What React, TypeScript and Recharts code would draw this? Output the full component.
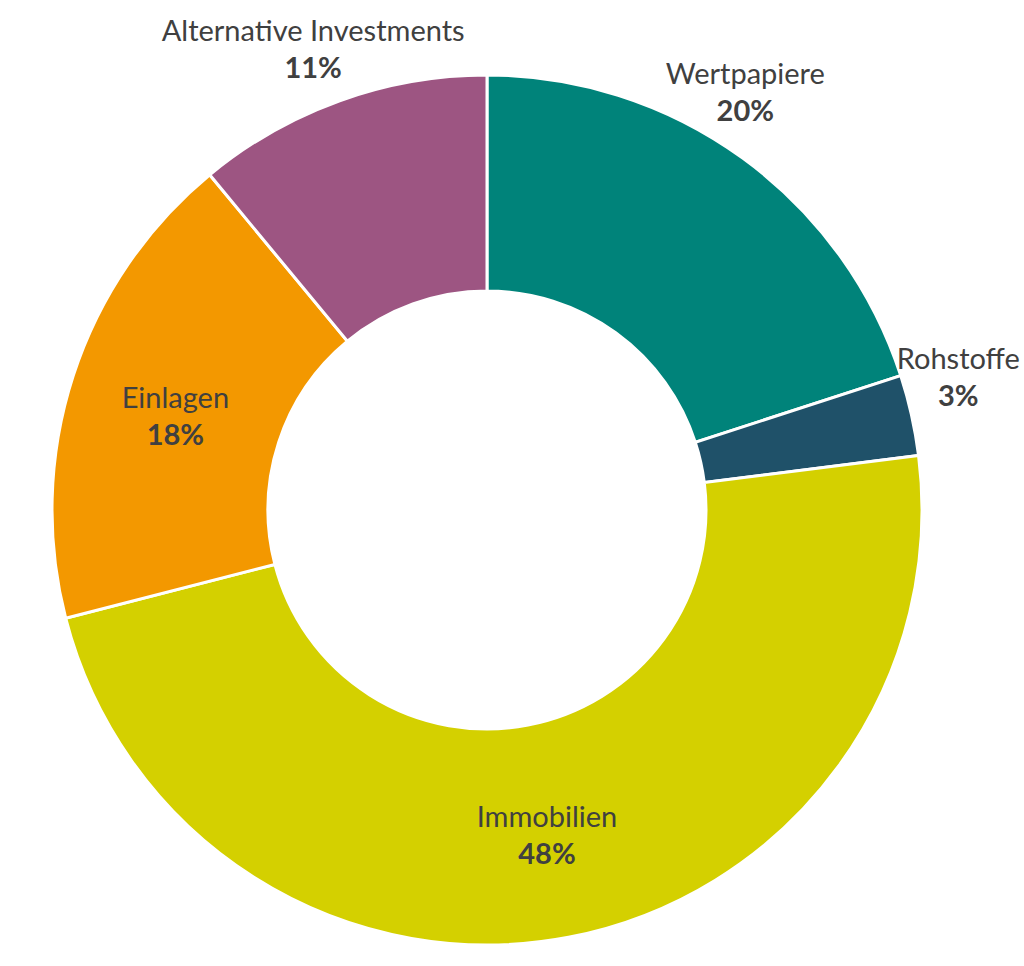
import React from "react";
import { PieChart, Pie, Cell } from "recharts";

const categories = ["Wertpapiere", "Rohstoffe", "Immobilien", "Einlagen", "Alternative Investments"];
const shares = [20, 3, 48, 18, 11];
const percentLabels = ["20%", "3%", "48%", "18%", "11%"];

const COLORS = ["#00837A", "#1F5169", "#D4D000", "#F39800", "#9D5582"];
// label placement: radius (px from centre) and angle nudge (deg) relative to slice middle
const LABEL_LAYOUT = [
  { r: 493, shift: 4.4 },
  { r: 490, shift: 3.3 },
  { r: 329, shift: -0.3 },
  { r: 326, shift: 0.9 },
  { r: 494, shift: 0.8 },
];

const data = categories.map((name, i) => ({ name, value: shares[i], pct: percentLabels[i] }));

const RAD = Math.PI / 180;
const FONT = "Lato, 'Open Sans', sans-serif";

const renderLabel = (props: any) => {
  const { cx, cy, midAngle, index } = props;
  const lay = LABEL_LAYOUT[index];
  const a = (midAngle + lay.shift) * RAD;
  const x = cx + lay.r * Math.cos(a);
  const y = cy - lay.r * Math.sin(a);
  return (
    <text x={x} y={y} textAnchor="middle" fill="#404040" fontFamily={FONT} fontSize={29}>
      <tspan x={x} y={y - 18} dominantBaseline="central">{categories[index]}</tspan>
      <tspan x={x} y={y + 19} dominantBaseline="central" fontWeight="bold">{percentLabels[index]}</tspan>
    </text>
  );
};

export default function App() {
  return (
    <div style={{ position: "absolute", left: 0, top: 0, width: 1024, height: 966, background: "#fff" }}>
      <PieChart width={1024} height={966} margin={{ top: 0, right: 0, bottom: 0, left: 0 }}>
        <Pie
          data={data}
          dataKey="value"
          nameKey="name"
          cx={487}
          cy={510}
          innerRadius={219}
          outerRadius={435}
          startAngle={90}
          endAngle={-270}
          stroke="#ffffff"
          strokeWidth={3}
          label={renderLabel}
          labelLine={false}
          isAnimationActive={false}
        >
          {data.map((d, i) => (
            <Cell key={d.name} fill={COLORS[i]} />
          ))}
        </Pie>
      </PieChart>
    </div>
  );
}
